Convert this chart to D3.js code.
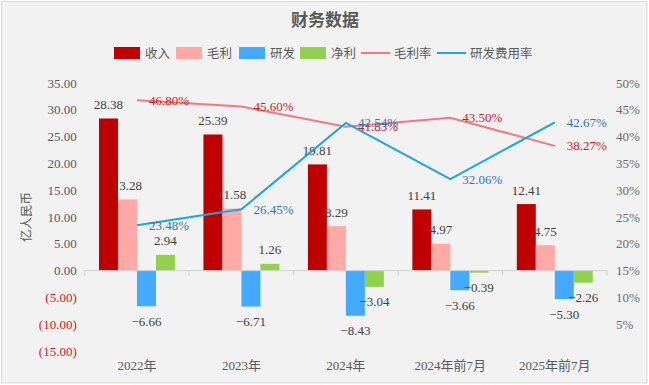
<!DOCTYPE html>
<html>
<head>
<meta charset="utf-8">
<script src="https://cdn.jsdelivr.net/npm/d3@7"></script>
<style>
    body { margin: 0; background: #ffffff; }
    svg text { font-family: "Liberation Serif", "Noto Sans CJK SC", serif; }
</style>
</head>
<body>
<svg id="chart" width="649" height="385"></svg>
<script>
    // categories and series
    var categories = ["2022年", "2023年", "2024年", "2024年前7月", "2025年前7月"];
    var barSeries = ["收入", "毛利", "研发", "净利"];
    var revenue = [28.38, 25.39, 19.81, 11.41, 12.41];
    var grossProfit = [13.28, 11.58, 8.29, 4.97, 4.75];
    var rnd = [-6.66, -6.71, -8.43, -3.66, -5.30];
    var netProfit = [2.94, 1.26, -3.04, -0.39, -2.26];
    var grossMargin = [46.80, 45.60, 41.83, 43.50, 38.27];
    var rndRate = [23.48, 26.45, 42.54, 32.06, 42.67];
    var leftTicks = [-15, -10, -5, 0, 5, 10, 15, 20, 25, 30, 35];
    var rightTicks = [5, 10, 15, 20, 25, 30, 35, 40, 45, 50];

    var barColors = {"收入": "#c00000", "毛利": "#ffaaa6", "研发": "#44aaff", "净利": "#92d050"};
    var barValues = {"收入": revenue, "毛利": grossProfit, "研发": rnd, "净利": netProfit};

    var svg = d3.select("#chart");
    var plot = {left: 84.75, right: 607, top: 83, bottom: 351};

    // frame
    svg.append("rect")
        .attr("x", 1.5).attr("y", 1.5)
        .attr("width", 645.5).attr("height", 381.5)
        .attr("fill", "#f2f2f2")
        .attr("stroke", "#d9d9d9");

    var x = d3.scaleBand().domain(categories).range([plot.left, plot.right]);
    var xInner = d3.scaleBand().domain(barSeries).range([0, x.bandwidth()])
        .paddingInner(0).paddingOuter(0.75);
    var yL = d3.scaleLinear().domain([-15, 35]).range([plot.bottom, plot.top]);
    var yR = d3.scaleLinear().domain([0, 50]).range([plot.bottom, plot.top]);

    // title
    svg.append("text")
        .attr("x", 325).attr("y", 26)
        .attr("text-anchor", "middle")
        .style("font-family", "'Noto Sans CJK SC'")
        .style("font-size", "17px")
        .style("font-weight", "bold")
        .attr("fill", "#595959")
        .text("财务数据");

    // legend
    var legendItems = [
        {name: "收入", type: "rect", color: barColors["收入"], x: 114},
        {name: "毛利", type: "rect", color: barColors["毛利"], x: 176},
        {name: "研发", type: "rect", color: barColors["研发"], x: 239},
        {name: "净利", type: "rect", color: barColors["净利"], x: 300},
        {name: "毛利率", type: "line", color: "#f4777f", x: 361},
        {name: "研发费用率", type: "line", color: "#1aa7e0", x: 437}
    ];
    var lg = svg.append("g").attr("class", "legend");
    legendItems.forEach(function(d) {
        if (d.type == "rect") {
            lg.append("rect").attr("x", d.x).attr("y", 47).attr("width", 26).attr("height", 12).attr("fill", d.color);
        } else {
            lg.append("line").attr("x1", d.x).attr("x2", d.x + 29).attr("y1", 53).attr("y2", 53)
                .attr("stroke", d.color).attr("stroke-width", 2);
        }
        lg.append("text")
            .attr("x", d.x + (d.type == "rect" ? 31 : 33)).attr("y", 57.5)
            .style("font-family", "'Noto Sans CJK SC'")
            .style("font-size", "12.5px")
            .attr("fill", "#595959")
            .text(d.name);
    });

    // left axis
    var gL = svg.append("g").attr("transform", "translate(" + (plot.left - 8) + ",0)")
        .call(d3.axisLeft(yL).tickValues(leftTicks).tickSize(0).tickPadding(0)
            .tickFormat(function(v) { return v < 0 ? "(" + d3.format(".2f")(-v) + ")" : d3.format(".2f")(v); }));
    gL.select(".domain").remove();
    gL.selectAll("text")
        .style("font-size", "13px")
        .style("font-family", "'Liberation Serif'")
        .attr("fill", function(v) { return v < 0 ? "#e0141e" : "#595959"; });

    // right axis
    var gR = svg.append("g").attr("transform", "translate(" + (plot.right + 9) + ",0)")
        .call(d3.axisRight(yR).tickValues(rightTicks).tickSize(0).tickPadding(0)
            .tickFormat(function(v) { return v + "%"; }));
    gR.select(".domain").remove();
    gR.selectAll("text")
        .style("font-size", "13px")
        .style("font-family", "'Liberation Serif'")
        .attr("fill", "#6a6a6a");

    // y axis title
    svg.append("text")
        .attr("transform", "translate(31," + ((plot.top + plot.bottom) / 2) + ") rotate(-90)")
        .attr("text-anchor", "middle")
        .style("font-family", "'Noto Sans CJK SC'")
        .style("font-size", "12.5px")
        .attr("fill", "#595959")
        .text("亿人民币");

    // bars
    var barData = [];
    categories.forEach(function(c, i) {
        barSeries.forEach(function(s) {
            barData.push({cat: c, series: s, value: barValues[s][i]});
        });
    });
    var bars = svg.append("g");
    bars.selectAll("rect").data(barData).enter().append("rect")
        .attr("x", function(d) { return x(d.cat) + xInner(d.series); })
        .attr("width", xInner.bandwidth())
        .attr("y", function(d) { return yL(Math.max(0, d.value)); })
        .attr("height", function(d) { return Math.abs(yL(d.value) - yL(0)); })
        .attr("fill", function(d) { return barColors[d.series]; });

    // zero axis line with category ticks
    svg.append("line")
        .attr("x1", plot.left).attr("x2", plot.right)
        .attr("y1", yL(0)).attr("y2", yL(0))
        .attr("stroke", "#d0d0d0");
    var bounds = categories.map(function(c) { return x(c); }).concat([plot.right]);
    svg.selectAll(".cattick").data(bounds).enter().append("line")
        .attr("x1", function(d) { return d; }).attr("x2", function(d) { return d; })
        .attr("y1", yL(0)).attr("y2", yL(0) + 5)
        .attr("stroke", "#d0d0d0");

    // bar labels
    bars.selectAll("text").data(barData).enter().append("text")
        .attr("x", function(d) { return x(d.cat) + xInner(d.series) + xInner.bandwidth() / 2; })
        .attr("y", function(d) { return d.value >= 0 ? yL(d.value) - 9.5 : yL(d.value) + 19.5; })
        .attr("text-anchor", "middle")
        .style("font-size", "13px")
        .attr("fill", "#404040")
        .text(function(d) { return d.value < 0 ? "\u2212" + d3.format(".2f")(-d.value) : d3.format(".2f")(d.value); });

    // category labels
    svg.selectAll(".catlabel").data(categories).enter().append("text")
        .attr("x", function(d) { return x(d) + x.bandwidth() / 2; })
        .attr("y", 370)
        .attr("text-anchor", "middle")
        .style("font-size", "13px")
        .attr("fill", "#595959")
        .text(function(d) { return d; });

    // lines (labels to the right of each point; 2024 labels overlap as in the source)
    function drawLine(values, color, labelColor) {
        var pts = values.map(function(v, i) { return [x(categories[i]) + x.bandwidth() / 2, yR(v)]; });
        svg.append("path")
            .attr("d", d3.line()(pts))
            .attr("fill", "none")
            .attr("stroke", color)
            .attr("stroke-width", 2);
        svg.append("g").selectAll("text").data(values).enter().append("text")
            .attr("x", function(v, i) { return pts[i][0] + 12; })
            .attr("y", function(v, i) { return pts[i][1] + 4.5; })
            .style("font-size", "13px")
            .attr("fill", labelColor)
            .text(function(v) { return d3.format(".2f")(v) + "%"; });
    }
    drawLine(grossMargin, "#f4777f", "#e0141e");
    drawLine(rndRate, "#1aa7e0", "#2e75b6");
</script>
</body>
</html>
